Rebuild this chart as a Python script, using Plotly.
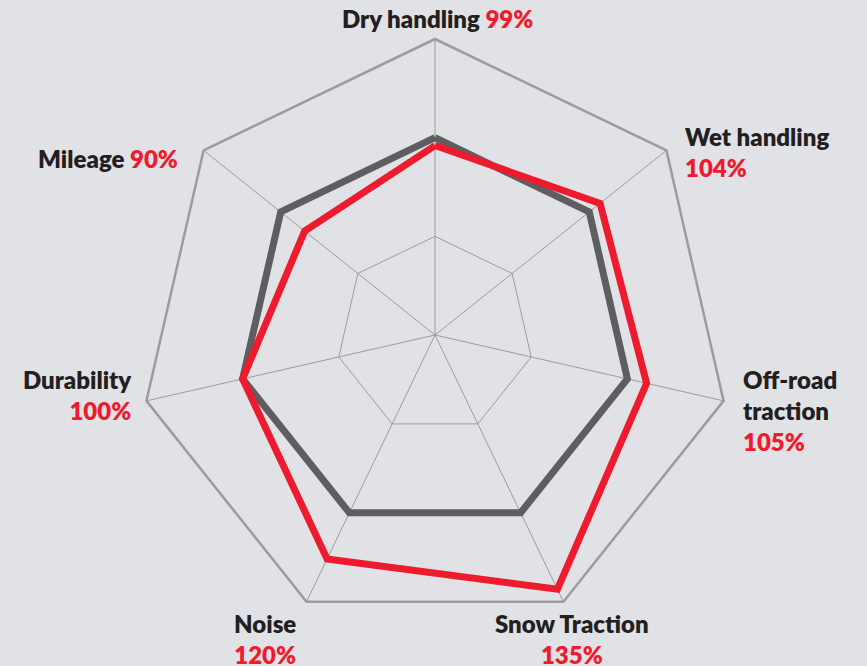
import math
import plotly.graph_objects as go

categories = ["Dry handling", "Wet handling", "Off-road traction", "Snow Traction", "Noise", "Durability", "Mileage"]
label_lines = [["Dry handling"], ["Wet handling"], ["Off-road", "traction"], ["Snow Traction"], ["Noise"], ["Durability"], ["Mileage"]]
# values as drawn in the picture (grey = 100% reference tyre)
baseline_values = [100, 100, 100, 100, 100, 100, 100]
tyre_values = [96, 107, 110, 143, 126, 100, 84.5]
# percentages as printed next to each axis
pct_labels = ["99%", "104%", "105%", "135%", "120%", "100%", "90%"]

BG = "#e1e2e6"
RED = "#ee1b2e"
DARK = "#5e5e60"
GRID = "#9c9c9e"
TXT = "#231f20"
FONT = "Lato"

W, H = 867, 666
ML, MR, MT, MB = 139, 136, 39, 35

fig = go.Figure()
fig.add_trace(go.Scatterpolar(
    r=baseline_values + baseline_values[:1], theta=categories + categories[:1],
    mode="lines", line=dict(color=DARK, width=7), hoverinfo="skip", showlegend=False))
fig.add_trace(go.Scatterpolar(
    r=tyre_values + tyre_values[:1], theta=categories + categories[:1],
    mode="lines", line=dict(color=RED, width=7), hoverinfo="skip", showlegend=False))

fig.update_layout(
    width=W, height=H,
    margin=dict(l=ML, r=MR, t=MT, b=MB),
    paper_bgcolor=BG, plot_bgcolor=BG,
    showlegend=False,
    polar=dict(
        bgcolor=BG,
        gridshape="linear",
        domain=dict(x=[0, 1], y=[0, 1]),
        radialaxis=dict(range=[0, 150], tickvals=[50, 100], showticklabels=False,
                        showline=False, ticks="", gridcolor=GRID, gridwidth=1.3),
        angularaxis=dict(rotation=90, direction="clockwise", showticklabels=False, ticks="",
                         showline=True, linecolor=GRID, linewidth=2.5,
                         gridcolor=GRID, gridwidth=1.3),
    ),
)

# label placement relative to each outer vertex
n = len(categories)
placements = [
    dict(xanchor="center", yanchor="bottom", xshift=2, yshift=4, align="center", inline=True),
    dict(xanchor="left", yanchor="middle", xshift=17, yshift=-2, align="left", inline=False),
    dict(xanchor="left", yanchor="middle", xshift=17, yshift=-10, align="left", inline=False),
    dict(xanchor="center", yanchor="top", xshift=9, yshift=-5, align="center", inline=False),
    dict(xanchor="center", yanchor="top", xshift=-42, yshift=-5, align="center", inline=False),
    dict(xanchor="right", yanchor="middle", xshift=-12, yshift=6, align="right", inline=False),
    dict(xanchor="right", yanchor="middle", xshift=-24, yshift=-8, align="right", inline=True),
]
for k in range(n):
    ang = 2 * math.pi * k / n
    xp = 0.5 + 0.5 * math.sin(ang)
    yp = 0.5 + 0.5 * math.cos(ang)
    p = placements[k]
    name = "<br>".join(label_lines[k])
    pct = f"<span style='color:{RED}'>{pct_labels[k]}</span>"
    text = f"{name} {pct}" if p["inline"] else f"{name}<br>{pct}"
    fig.add_annotation(
        x=xp, y=yp, xref="paper", yref="paper", text=text, showarrow=False,
        xanchor=p["xanchor"], yanchor=p["yanchor"], xshift=p["xshift"], yshift=p["yshift"],
        align=p["align"], font=dict(family=FONT, size=24, color=TXT, weight=800))

fig.write_html("out.html", config={"displayModeBar": False},
               post_script="document.body.style.margin='0';document.body.style.overflow='hidden';")
